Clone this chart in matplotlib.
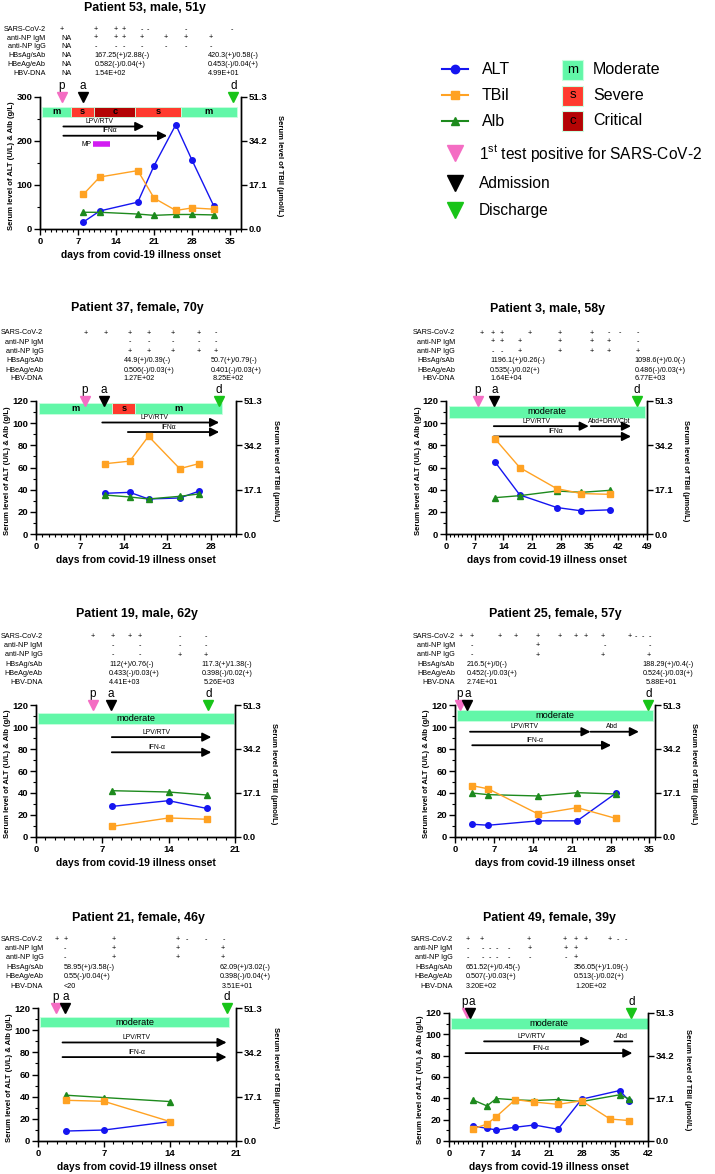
import matplotlib
matplotlib.use("Agg")
import matplotlib.pyplot as plt
from matplotlib.patches import Rectangle
from matplotlib.ticker import MultipleLocator
from matplotlib.transforms import blended_transform_factory

plt.rcParams['font.family'] = ['Liberation Sans', 'DejaVu Sans']
plt.rcParams['mathtext.fontset'] = 'custom'
plt.rcParams['mathtext.rm'] = 'Liberation Sans'

W, H = 715, 1174

# ---------------- data ----------------
row_labels = ["SARS-CoV-2", "anti-NP IgM", "anti-NP IgG", "HBsAg/sAb", "HBeAg/eAb", "HBV-DNA"]

# Patient 53
p53_title = "Patient 53, male, 51y"
p53_days = [8, 11, 18, 21, 25, 28, 32]
p53_alt = [16, 41, 61, 144, 237, 156, 52]
p53_tbil = [13.5, 20.2, 22.7, 12.0, 7.2, 8.2, 7.7]
p53_alb = [38, 38, 34, 31, 33, 33, 32]
p53_events = [4.0, 7.9, 35.6]          # positive, admission, discharge
p53_stages = [("m", 0.3, 5.7), ("s", 5.7, 10), ("c", 10, 17.5), ("s", 17.5, 26), ("m", 26, 36.2)]
p53_drugs = [("LPV/RTV", 4.3, 19.2), ("IFNα", 4.3, 23.4)]
p53_mp = ("MP", 9.7, 12.9)
p53_table = [
    [(4.0, "+"), (10.2, "+"), (13.9, "+"), (15.5, "+"), (18.7, "-"), (19.8, "-"), (26.9, "-"), (35.4, "-")],
    [(3.9, "NA"), (10.2, "+"), (13.9, "+"), (15.5, "+"), (18.7, "+"), (23.2, "+"), (26.9, "+"), (31.5, "+")],
    [(3.9, "NA"), (10.2, "-"), (13.9, "-"), (15.5, "-"), (18.7, "-"), (23.2, "-"), (26.9, "-"), (31.5, "-")],
    [(3.9, "NA"), (10.0, "167.25(+)/2.88(-)"), (30.9, "420.3(+)/0.58(-)")],
    [(3.9, "NA"), (10.0, "0.582(-)/0.04(+)"), (30.9, "0.453(-)/0.04(+)")],
    [(3.9, "NA"), (10.0, "1.54E+02"), (30.9, "4.99E+01")],
]

# Patient 37
p37_title = "Patient 37, female, 70y"
p37_days = [11, 15, 18, 23, 26]
p37_alt = [36.7, 37.6, 31.6, 32.5, 38.5]
p37_tbil = [27.1, 28.1, 37.7, 25.2, 27.1]
p37_alb = [35.2, 33.4, 31.6, 34.0, 36.1]
p37_events = [7.8, 10.8, 29.3]
p37_stages = [("m", 0.4, 12.2), ("s", 12.2, 15.9), ("m", 15.9, 29.8)]
p37_drugs = [("LPV/RTV", 10.6, 29.3), ("IFNα", 14.7, 29.3)]
p37_table = [
    [(8, "+"), (11.1, "+"), (15, "+"), (18.1, "+"), (21.9, "+"), (26.1, "+"), (28.8, "-")],
    [(15, "-"), (18.1, "-"), (21.9, "-"), (26.1, "-"), (28.8, "-")],
    [(15, "+"), (18.1, "+"), (21.9, "+"), (26.1, "+"), (28.8, "+")],
    [(14.0, "44.9(+)/0.39(-)"), (27.9, "50.7(+)/0.79(-)")],
    [(14.0, "0.506(-)/0.03(+)"), (27.9, "0.401(-)/0.03(+)")],
    [(14.0, "1.27E+02"), (28.2, "8.25E+02")],
]

# Patient 3
p3_title = "Patient 3, male, 58y"
p3_days = [12, 18, 27, 33, 40]
p3_alt = [64.8, 35.2, 23.9, 20.9, 21.8]
p3_tbil = [36.6, 25.6, 17.5, 15.6, 15.3]
p3_alb = [32.8, 34.6, 38.8, 37.6, 39.4]
p3_events = [7.8, 11.8, 46.5]
p3_stages = [("moderate", 0.8, 48.6)]
p3_drugs = [("LPV/RTV", 11.65, 34.8), ("Abd+DRV/Cbt", 35.3, 45.1), ("IFNα", 11.65, 45.1)]
p3_table = [
    [(8.8, "+"), (11.5, "+"), (13.7, "+"), (20.4, "+"), (27.8, "+"), (35.5, "+"), (39.7, "-"), (42.3, "-"), (46.8, "-")],
    [(11.5, "+"), (13.7, "+"), (18.0, "+"), (27.8, "+"), (35.5, "+"), (39.7, "+"), (46.8, "-")],
    [(11.5, "-"), (13.7, "-"), (18.0, "+"), (27.8, "+"), (35.5, "+"), (39.7, "+"), (46.8, "+")],
    [(10.7, "1196.1(+)/0.26(-)"), (45.9, "1098.6(+)/0.0(-)")],
    [(10.7, "0.535(-)/0.02(+)"), (45.9, "0.486(-)/0.03(+)")],
    [(10.7, "1.64E+04"), (45.9, "6.77E+03")],
]

# Patient 19
p19_title = "Patient 19, male, 62y"
p19_days = [8, 14, 18]
p19_alt = [27.8, 33.0, 26.0]
p19_tbil = [4.1, 7.4, 6.9]
p19_alb = [42.1, 40.9, 38.2]
p19_events = [6.0, 7.9, 18.2]
p19_stages = [("moderate", 0.25, 20.9)]
p19_drugs = [("LPV/RTV", 8.0, 18.5), ("IFN-α", 8.0, 18.5)]
p19_table = [
    [(6.0, "+"), (8.1, "+"), (9.9, "+"), (11.0, "+"), (15.2, "-"), (17.9, "-")],
    [(8.1, "-"), (11.0, "-"), (15.2, "-"), (17.9, "-")],
    [(8.1, "-"), (11.0, "-"), (15.2, "+"), (17.9, "+")],
    [(7.7, "112(+)/0.76(-)"), (17.5, "117.3(+)/1.38(-)")],
    [(7.7, "0.433(-)/0.03(+)"), (17.5, "0.398(-)/0.02(+)")],
    [(7.7, "4.41E+03"), (17.7, "5.26E+03")],
]

# Patient 25
p25_title = "Patient 25, female, 57y"
p25_days = [3, 6, 15, 22, 29]
p25_alt = [11.6, 10.7, 14.7, 14.7, 40.0]
p25_tbil = [20.0, 18.7, 8.9, 11.4, 7.2]
p25_alb = [40.0, 38.5, 37.3, 40.3, 39.1]
p25_events = [0.9, 2.2, 34.8]
p25_stages = [("moderate", 0.3, 35.6)]
p25_drugs = [("LPV/RTV", 2.7, 24.4), ("Abd", 24.4, 33.1), ("IFN-α", 3.1, 28.1)]
p25_table = [
    [(1.1, "+"), (3.1, "+"), (8.1, "+"), (10.9, "+"), (14.9, "+"), (18.8, "+"), (21.8, "+"), (23.6, "+"),
     (26.6, "+"), (31.4, "+"), (32.6, "-"), (33.9, "-"), (35.1, "-")],
    [(3.1, "-"), (14.9, "+"), (26.9, "-"), (35.1, "-")],
    [(3.1, "-"), (14.9, "+"), (26.6, "+"), (34.9, "+")],
    [(2.1, "216.5(+)/0(-)"), (33.8, "188.29(+)/0.4(-)")],
    [(2.1, "0.452(-)/0.03(+)"), (33.8, "0.524(-)/0.03(+)")],
    [(2.1, "2.74E+01"), (34.4, "5.88E+01")],
]

# Patient 21
p21_title = "Patient 21, female, 46y"
p21_days = [3, 7, 14]
p21_alt = [9.0, 9.9, 17.5]
p21_tbil = [15.7, 15.3, 7.5]
p21_alb = [41.3, 39.2, 35.6]
p21_events = [1.9, 2.9, 20.0]
p21_stages = [("moderate", 0.18, 20.3)]
p21_drugs = [("LPV/RTV", 2.6, 20.0), ("IFN-α", 2.6, 20.0)]
p21_table = [
    [(1.95, "+"), (2.9, "+"), (8.0, "+"), (14.8, "+"), (15.8, "-"), (17.8, "-"), (19.7, "-")],
    [(2.9, "-"), (8.0, "+"), (14.8, "+"), (19.6, "+")],
    [(2.9, "-"), (8.0, "+"), (14.8, "+"), (19.6, "+")],
    [(2.7, "58.95(+)/3.58(-)"), (19.3, "62.09(+)/3.02(-)")],
    [(2.7, "0.55(-)/0.04(+)"), (19.3, "0.398(-)/0.04(+)")],
    [(2.7, "<20"), (19.5, "3.51E+01")],
]

# Patient 49
p49_title = "Patient 49, female, 39y"
p49_days = [5, 8, 10, 14, 18, 23, 28, 36, 38]
p49_alt = [14.1, 11.9, 10.3, 12.9, 15.0, 11.0, 39.2, 47.3, 37.9]
p49_tbil_days = [5, 8, 10, 14, 18, 23, 28, 34, 38]
p49_tbil = [4.8, 6.8, 9.8, 16.6, 15.6, 14.7, 16.1, 8.8, 8.2]
p49_alb = [38.6, 32.9, 39.8, 38.6, 37.9, 38.9, 37.0, 43.3, 39.5]
p49_events = [3.7, 4.4, 38.5]
p49_stages = [("moderate", 0.37, 41.9)]
p49_drugs = [("LPV/RTV", 7.4, 29.8), ("Abd", 34.9, 38.7), ("IFN-α", 3.5, 38.7)]
p49_table = [
    [(4.0, "+"), (6.9, "+"), (16.8, "+"), (24.4, "+"), (26.8, "+"), (28.9, "+"), (33.9, "+"), (35.7, "-"), (37.3, "-")],
    [(4.0, "-"), (7.2, "-"), (8.6, "-"), (10.0, "-"), (12.7, "-"), (17.0, "+"), (24.6, "+"), (26.8, "+")],
    [(4.0, "-"), (7.2, "-"), (8.6, "-"), (10.0, "-"), (12.7, "-"), (17.0, "-"), (24.6, "-"), (26.8, "+")],
    [(3.5, "651.52(+)/0.45(-)"), (26.3, "356.05(+)/1.09(-)")],
    [(3.5, "0.507(-)/0.03(+)"), (26.3, "0.513(-)/0.02(+)")],
    [(3.5, "3.20E+02"), (26.7, "1.20E+02")],
]

# ---------------- layout (pixels) ----------------
rows_a = [29.3, 38, 47, 55.7, 64.7, 73.7]
rows_b = [333, 342, 351.3, 361, 370, 379]
rows_c = [636.7, 645.7, 655, 664.3, 673.3, 682.7]
rows_d = [939.3, 948.3, 957.7, 967.3, 976.7, 986]

lay53 = dict(rect=(40, 97, 241, 229), xmax=37, ymax=300, band=(254, 278), levels=[233, 212],
             rows=rows_a, label_x=45.7, title=(145, 8))
lay37 = dict(rect=(36, 401, 236, 534), xmax=32, ymax=120, band=(108, 118), levels=[100.6, 92],
             rows=rows_b, label_x=43.3, title=(137, 308))
lay3 = dict(rect=(446, 401, 647, 534), xmax=49, ymax=120, band=(105.1, 115.8), levels=[97.3, 97.3, 88],
            rows=rows_b, label_x=455, title=(547.5, 309))
lay19 = dict(rect=(36, 705, 235, 837), xmax=21, ymax=120, band=(103.1, 112.9), levels=[90.8, 77],
             rows=rows_c, label_x=42.7, title=(137, 614))
lay25 = dict(rect=(455, 705, 655, 837), xmax=36, ymax=120, band=(105.5, 115.4), levels=[95.7, 95.7, 83.4],
             rows=rows_c, label_x=455, title=(555.5, 614))
lay21 = dict(rect=(38, 1008, 236, 1141), xmax=21, ymax=120, band=(102.5, 111.8), levels=[88.9, 75.7],
             rows=rows_d, label_x=43.3, title=(138.5, 918))
lay49 = dict(rect=(449, 1013, 648, 1141), xmax=42, ymax=120, band=(105, 115.4), levels=[93.4, 93.4, 82.4],
             heads=[True, False, True], rows=rows_d, label_x=452.7, title=(549.7, 918))

BLUE, ORANGE, GREEN = "#1515F0", "#FFA223", "#1D8A1D"
STAGE_COL = {"m": "#62F7A8", "s": "#FF3B2E", "c": "#B40404", "moderate": "#62F7A8"}
EVENT_COL = ["#F46DC3", "black", "#18C418"]

fig = plt.figure(figsize=(W / 100, H / 100), dpi=100)
lay = fig.add_axes([0, 0, 1, 1])
lay.set_xlim(0, W)
lay.set_ylim(H, 0)
lay.axis("off")


def panel(title, days, alt, tdays, tbil, alb, events, stages, drugs, table, lo):
    l, t, r, b = lo["rect"]
    ax = fig.add_axes([l / W, 1 - b / H, (r - l) / W, (b - t) / H])
    ax.set_facecolor("none")
    ax2 = ax.twinx()
    ymax = lo["ymax"]
    ax.set_xlim(0, lo["xmax"])
    ax.set_ylim(0, ymax)
    ax2.set_ylim(0, 51.3)

    xt = list(range(0, lo["xmax"] + 1, 7))
    ax.set_xticks(xt)
    ax.set_xticklabels([str(v) for v in xt], fontweight="bold")
    ax.xaxis.set_minor_locator(MultipleLocator(1))
    step = 100 if ymax == 300 else 20
    yt = list(range(0, ymax + 1, step))
    ax.set_yticks(yt)
    ax.set_yticklabels([str(v) for v in yt], fontweight="bold")
    ax.yaxis.set_minor_locator(MultipleLocator(step / 2))
    ax2.set_yticks([0, 17.1, 34.2, 51.3])
    ax2.set_yticklabels(["0.0", "17.1", "34.2", "51.3"], fontweight="bold")
    for a in (ax, ax2):
        a.tick_params(which="major", length=4, width=1, labelsize=6.8, pad=1.5)
        a.tick_params(which="minor", length=2, width=0.8)
        a.spines["top"].set_visible(False)
        for s in a.spines.values():
            s.set_linewidth(1)

    # severity band
    lo_b, hi_b = lo["band"]
    for name, s, e in stages:
        ax.add_patch(Rectangle((s, lo_b), e - s, hi_b - lo_b, facecolor=STAGE_COL[name],
                               edgecolor="#c9ffe0", lw=0.6, zorder=1))
        ax.text((s + e) / 2, (lo_b + hi_b) / 2, name, ha="center", va="center",
                fontsize=6.7, fontweight="bold" if len(name) == 1 else "normal", zorder=2)

    # events (p / a / d), letters nudged apart when the marks sit close together
    px_per_day = (r - l) / lo["xmax"]
    gap = (events[1] - events[0]) * px_per_day
    shift = max(0.0, (8.0 - gap) / 2) * 0.72
    offsets = [-shift, shift, 0]
    for d, c, letter, off in zip(events, EVENT_COL, "pad", offsets):
        ax.plot(d, ymax, marker="v", ms=6.5, color=c, clip_on=False, zorder=6)
        ax.annotate(letter, (d, ymax), xytext=(off, 3.5), textcoords="offset points",
                    ha="center", va="bottom", fontsize=8.5, annotation_clip=False)

    # treatments
    heads = lo.get("heads", [True] * len(drugs))
    for (name, s, e), y, hd in zip(drugs, lo["levels"], heads):
        ax.annotate("", xy=(e, y), xytext=(s, y),
                    arrowprops=dict(arrowstyle="-|>" if hd else "-", color="black", lw=1.3,
                                    mutation_scale=13, shrinkA=0, shrinkB=0))
        ax.annotate(name, (s + 0.45 * (e - s), y), xytext=(0, 1.0), textcoords="offset points",
                    ha="center", va="bottom", fontsize=4.9)

    # data
    ax.plot(days, alt, "-o", color=BLUE, ms=4, lw=1, zorder=4, clip_on=False)
    ax.plot(days, alb, "-^", color=GREEN, ms=4.3, lw=1, zorder=4, clip_on=False)
    ax2.plot(tdays, tbil, "-s", color=ORANGE, ms=3.9, lw=1, zorder=4, clip_on=False)

    # test table above the plot
    tr = blended_transform_factory(ax.transData, lay.transData)
    for lab, y, entries in zip(row_labels, lo["rows"], table):
        lay.text(lo["label_x"], y, lab, ha="right", va="center", fontsize=5.2)
        for d, s in entries:
            lay.text(d, y, s, transform=tr, ha="center" if len(s) == 1 else "left",
                     va="center", fontsize=5.2)

    lay.text(lo["title"][0], lo["title"][1], title, ha="center", va="center",
             fontsize=8.9, fontweight="bold")
    lay.text((l + r) / 2, b + 26, "days from covid-19 illness onset", ha="center",
             va="center", fontsize=7.4, fontweight="bold")
    lay.text(l - 28, (t + b) / 2 + 3, "Serum level of ALT (U/L) & Alb (g/L)", rotation=90,
             ha="center", va="center", fontsize=5.5, fontweight="bold")
    lay.text(r + 39, (t + b) / 2 + 3, "Serum level of TBil (μmol/L)", rotation=270,
             ha="center", va="center", fontsize=5.5, fontweight="bold")
    return ax


ax53 = panel(p53_title, p53_days, p53_alt, p53_days, p53_tbil, p53_alb, p53_events,
             p53_stages, p53_drugs, p53_table, lay53)
mp_name, mp_s, mp_e = p53_mp
ax53.plot([mp_s, mp_e], [193, 193], color="#D21CF2", lw=4, solid_capstyle="butt")
ax53.text(mp_s - 0.3, 193, mp_name, ha="right", va="center", fontsize=4.9)

panel(p37_title, p37_days, p37_alt, p37_days, p37_tbil, p37_alb, p37_events,
      p37_stages, p37_drugs, p37_table, lay37)
panel(p3_title, p3_days, p3_alt, p3_days, p3_tbil, p3_alb, p3_events,
      p3_stages, p3_drugs, p3_table, lay3)
panel(p19_title, p19_days, p19_alt, p19_days, p19_tbil, p19_alb, p19_events,
      p19_stages, p19_drugs, p19_table, lay19)
panel(p25_title, p25_days, p25_alt, p25_days, p25_tbil, p25_alb, p25_events,
      p25_stages, p25_drugs, p25_table, lay25)
panel(p21_title, p21_days, p21_alt, p21_days, p21_tbil, p21_alb, p21_events,
      p21_stages, p21_drugs, p21_table, lay21)
panel(p49_title, p49_days, p49_alt, p49_tbil_days, p49_tbil, p49_alb, p49_events,
      p49_stages, p49_drugs, p49_table, lay49)

# legend (drawn by hand, pixel coordinates)
leg_lines = [("ALT", BLUE, "o", 69), ("TBil", ORANGE, "s", 95), ("Alb", GREEN, "^", 121)]
for name, c, m, y in leg_lines:
    lay.plot([442, 468], [y, y], color=c, lw=1.5)
    lay.plot([455], [y], marker=m, color=c, ms=6)
    lay.text(482, y, name, ha="left", va="center", fontsize=11.5)
leg_boxes = [("m", "Moderate", 70), ("s", "Severe", 95.5), ("c", "Critical", 120.5)]
for k, name, y in leg_boxes:
    lay.add_patch(Rectangle((562, y - 10), 21, 20, facecolor=STAGE_COL[k], edgecolor="#c9ffe0", lw=0.8))
    lay.text(572.5, y, k, ha="center", va="center", fontsize=9.5)
    lay.text(593, y, name, ha="left", va="center", fontsize=11.5)
leg_events = [("1$^{\\rm st}$ test positive for SARS-CoV-2", 153), ("Admission", 183), ("Discharge", 210)]
for (name, y), c in zip(leg_events, EVENT_COL):
    lay.plot([455], [y], marker="v", color=c, ms=11)
    lay.text(479, y, name, ha="left", va="center", fontsize=11.2)

fig.savefig("out.png", dpi=100)
